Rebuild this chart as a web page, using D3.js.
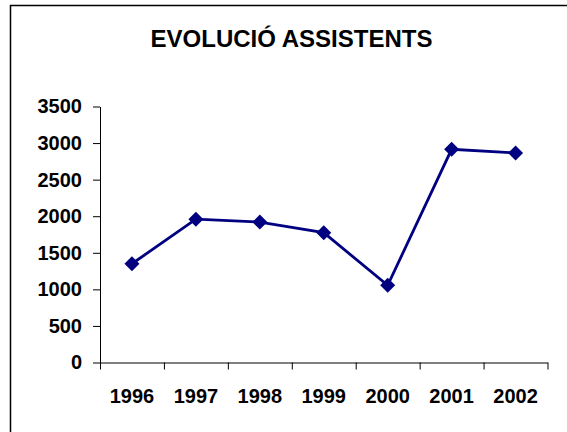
<!DOCTYPE html>
<html>
<head>
<meta charset="utf-8">
<script src="https://cdn.jsdelivr.net/npm/d3@7"></script>
<style>
  html, body { margin: 0; padding: 0; background: #fff; }
  svg { display: block; }
  text { font-family: "Liberation Sans", Arial, sans-serif; font-weight: bold; fill: #000; }
</style>
</head>
<body>
<svg id="chart" width="567" height="432"></svg>
<script>
const title = "EVOLUCIÓ ASSISTENTS";
const years = ["1996", "1997", "1998", "1999", "2000", "2001", "2002"];
const assistents = [1350, 1960, 1920, 1775, 1055, 2915, 2865];
const yTicks = [0, 500, 1000, 1500, 2000, 2500, 3000, 3500];

const svg = d3.select("#chart");

// outer chart frame
svg.append("rect")
  .attr("x", 10.5).attr("y", 5.5)
  .attr("width", 620).attr("height", 500)
  .attr("fill", "none").attr("stroke", "#000").attr("stroke-width", 1.5);

const plotLeft = 100, plotRight = 547.5, plotTop = 106.5, plotBottom = 362.5;

const x = d3.scaleBand().domain(years).range([plotLeft, plotRight]);
const xEdges = d3.scaleLinear().domain([0, years.length]).range([plotLeft, plotRight]);
const y = d3.scaleLinear().domain([0, 3500]).range([plotBottom, plotTop]);

// title
svg.append("text")
  .attr("x", 291.5).attr("y", 47)
  .attr("text-anchor", "middle")
  .style("font-size", "24px")
  .text(title);

// y axis
const yAxis = svg.append("g")
  .attr("transform", `translate(${plotLeft},0)`)
  .call(d3.axisLeft(y).tickValues(yTicks).tickSize(7).tickSizeOuter(0).tickPadding(11).tickFormat(d3.format("d")));
yAxis.selectAll("text").style("font-size", "20px").style("font-family", '"Liberation Sans", Arial, sans-serif').style("font-weight", "bold");
yAxis.selectAll("line, path").attr("stroke", "#000");

// x axis (ticks at category boundaries)
const xAxis = svg.append("g")
  .attr("transform", `translate(0,${plotBottom})`)
  .call(d3.axisBottom(xEdges).tickValues(d3.range(years.length + 1)).tickSize(7).tickSizeOuter(0).tickFormat(""));
xAxis.selectAll("line, path").attr("stroke", "#000");

// x labels
svg.append("g").selectAll("text")
  .data(years)
  .join("text")
  .attr("x", d => x(d) + x.bandwidth() / 2)
  .attr("y", 402.5)
  .attr("text-anchor", "middle")
  .style("font-size", "20px")
  .text(d => d);

// line
const line = d3.line()
  .x((d, i) => x(years[i]) + x.bandwidth() / 2)
  .y(d => y(d));

svg.append("path")
  .datum(assistents)
  .attr("d", line)
  .attr("fill", "none")
  .attr("stroke", "#000080")
  .attr("stroke-width", 2.8);

// diamond markers
svg.append("g").selectAll("path")
  .data(assistents)
  .join("path")
  .attr("transform", (d, i) => `translate(${x(years[i]) + x.bandwidth() / 2},${y(d)})`)
  .attr("d", "M0,-7.5L7.5,0L0,7.5L-7.5,0Z")
  .attr("fill", "#000080");
</script>
</body>
</html>
